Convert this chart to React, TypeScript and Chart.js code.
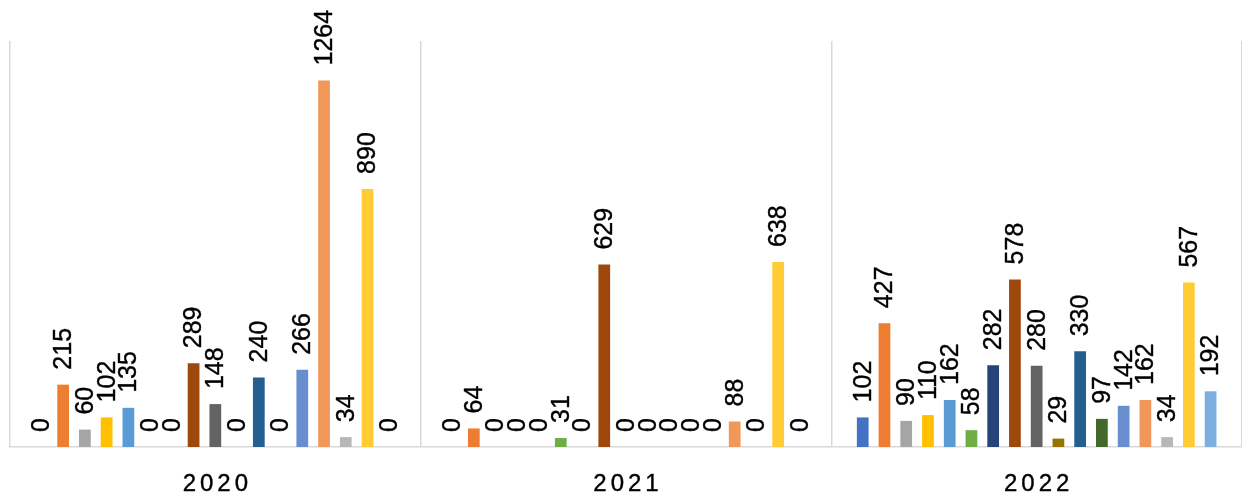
import React, { useEffect, useRef } from "react";
import { Chart, registerables } from "chart.js";

Chart.register(...registerables);

const categories = ["2020", "2021", "2022"];

const series01 = [0, 0, 102];
const series02 = [215, 64, 427];
const series03 = [60, 0, 90];
const series04 = [102, 0, 110];
const series05 = [135, 0, 162];
const series06 = [0, 31, 58];
const series07 = [0, 0, 282];
const series08 = [289, 629, 578];
const series09 = [148, 0, 280];
const series10 = [0, 0, 29];
const series11 = [240, 0, 330];
const series12 = [0, 0, 97];
const series13 = [266, 0, 142];
const series14 = [1264, 88, 162];
const series15 = [34, 0, 34];
const series16 = [890, 638, 567];
const series17 = [0, 0, 192];

const allSeries = [
  series01, series02, series03, series04, series05, series06, series07, series08, series09,
  series10, series11, series12, series13, series14, series15, series16, series17,
];

const seriesColors = [
  "#4472C4", "#ED7D31", "#A5A5A5", "#FFC000", "#5B9BD5", "#70AD47", "#264478", "#9E480E", "#636363",
  "#997300", "#255E91", "#43682B", "#698ED0", "#F1975A", "#B7B7B7", "#FFCD33", "#7CAFDD",
];

const yMax = 1400;

const labelPlugin = {
  id: "rotLabels",
  afterDatasetsDraw(chart: any) {
    const ctx = chart.ctx as CanvasRenderingContext2D;
    ctx.save();
    ctx.fillStyle = "#000000";
    ctx.strokeStyle = "#000000";
    ctx.lineWidth = 0.4;
    ctx.font = "25px 'Liberation Sans', Arial, sans-serif";
    ctx.textAlign = "left";
    ctx.textBaseline = "middle";
    chart.data.datasets.forEach((ds: any, di: number) => {
      const meta = chart.getDatasetMeta(di);
      meta.data.forEach((el: any, i: number) => {
        const v = ds.data[i];
        ctx.save();
        ctx.translate(el.x, el.y - 15);
        ctx.rotate(-Math.PI / 2);
        ctx.fillText(String(v), 0, 1);
        ctx.strokeText(String(v), 0, 1);
        ctx.restore();
      });
    });
    // category labels
    const xs = chart.scales.x;
    ctx.font = "24px 'Liberation Sans', Arial, sans-serif";
    (ctx as any).letterSpacing = "4px";
    ctx.textAlign = "left";
    categories.forEach((c, i) => {
      const cx = xs.getPixelForValue(i);
      const w = ctx.measureText(c).width - 4;
      ctx.fillText(c, cx - w / 2, 484);
      ctx.strokeText(c, cx - w / 2, 484);
    });
    ctx.restore();
  },
};

export default function App() {
  const ref = useRef<HTMLCanvasElement | null>(null);
  useEffect(() => {
    document.body.style.margin = "0";
    const canvas = ref.current!;
    const chart = new Chart(canvas, {
      type: "bar",
      data: {
        labels: categories,
        datasets: allSeries.map((d, i) => ({
          label: "S" + (i + 1),
          data: d,
          backgroundColor: seriesColors[i],
          borderWidth: 0,
          barPercentage: 0.54,
          categoryPercentage: 0.9,
        })),
      },
      options: {
        responsive: false,
        animation: false,
        maintainAspectRatio: false,
        layout: { padding: { left: 10, right: 0, top: 41, bottom: 50 } },
        plugins: {
          legend: { display: false },
          tooltip: { enabled: false },
          title: { display: false },
        },
        scales: {
          x: {
            ticks: { display: false },
            grid: { display: true, color: "#D9D9D9", lineWidth: 1.5, drawTicks: false, offset: true },
            border: { display: true, color: "#D9D9D9", width: 1.5 },
          },
          y: {
            display: false,
            min: 0,
            max: yMax,
          },
        },
      },
      plugins: [labelPlugin],
    });
    return () => chart.destroy();
  }, []);
  return (
    <div style={{ width: 1242, height: 497, background: "#fff" }}>
      <canvas ref={ref} width={1242} height={497} style={{ display: "block" }} />
    </div>
  );
}
